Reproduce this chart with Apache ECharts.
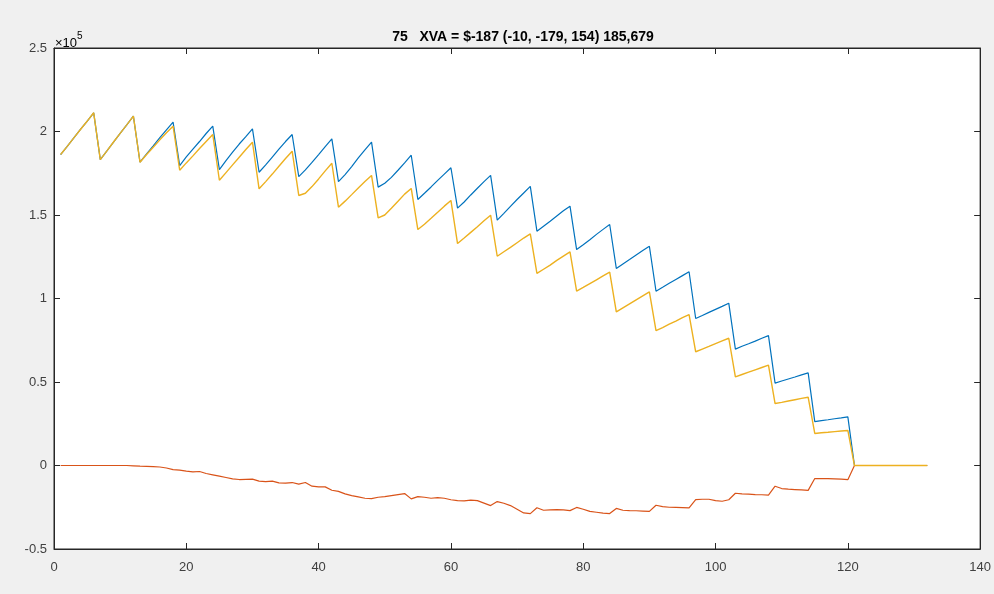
<!DOCTYPE html>
<html>
<head>
<meta charset="utf-8">
<script src="https://cdn.jsdelivr.net/npm/echarts@6/dist/echarts.min.js"></script>
<style>
  html, body { margin: 0; padding: 0; background: #f0f0f0; }
  #chart { width: 994px; height: 594px; }
</style>
</head>
<body>
<div id="chart"></div>
<script>
// values are in units of 1e5
let titleText = '75   XVA = $-187 (-10, -179, 154) 185,679';
let xTicks = [0, 20, 40, 60, 80, 100, 120, 140];
let yTicks = [-0.5, 0, 0.5, 1, 1.5, 2, 2.5];

// x runs 1..132
let blueVals = [
  1.862, 1.911, 1.962, 2.012, 2.061, 2.112,
  1.832, 1.884, 1.937, 1.989, 2.040, 2.092,
  1.816, 1.866, 1.914, 1.963, 2.010, 2.056,
  1.796, 1.848, 1.895, 1.940, 1.988, 2.032,
  1.772, 1.826, 1.876, 1.925, 1.969, 2.016,
  1.756, 1.800, 1.847, 1.894, 1.940, 1.982,
  1.730, 1.770, 1.815, 1.862, 1.910, 1.956,
  1.700, 1.742, 1.790, 1.842, 1.890, 1.936,
  1.667, 1.690, 1.725, 1.768, 1.812, 1.858,
  1.593, 1.630, 1.668, 1.707, 1.745, 1.783,
  1.541, 1.578, 1.620, 1.660, 1.700, 1.737,
  1.469, 1.510, 1.552, 1.593, 1.632, 1.671,
  1.403, 1.433, 1.463, 1.494, 1.525, 1.553,
  1.293, 1.322, 1.352, 1.384, 1.414, 1.443,
  1.180, 1.207, 1.233, 1.260, 1.287, 1.313,
  1.044, 1.067, 1.091, 1.114, 1.137, 1.160,
  0.880, 0.898, 0.917, 0.935, 0.953, 0.972,
  0.697, 0.714, 0.729, 0.745, 0.762, 0.778,
  0.493, 0.506, 0.518, 0.530, 0.543, 0.555,
  0.263, 0.269, 0.274, 0.280, 0.285, 0.291,
  0, 0, 0, 0, 0, 0, 0, 0, 0, 0, 0, 0
];

let redVals = [
  0, 0, 0, 0, 0, 0,
  0, 0, 0, 0, 0, -0.002,
  -0.004, -0.005, -0.007, -0.009, -0.015, -0.025,
  -0.028, -0.034, -0.038, -0.036, -0.048, -0.056,
  -0.064, -0.072, -0.080, -0.084, -0.083, -0.082,
  -0.094, -0.096, -0.094, -0.104, -0.106, -0.102,
  -0.112, -0.102, -0.124, -0.128, -0.128, -0.148,
  -0.155, -0.170, -0.180, -0.188, -0.196, -0.198,
  -0.190, -0.186, -0.180, -0.174, -0.168, -0.200,
  -0.186, -0.190, -0.196, -0.192, -0.196, -0.205,
  -0.210, -0.212, -0.207, -0.210, -0.225, -0.240,
  -0.216, -0.226, -0.240, -0.262, -0.284, -0.288,
  -0.253, -0.268, -0.266, -0.264, -0.266, -0.270,
  -0.251, -0.262, -0.275, -0.280, -0.285, -0.288,
  -0.257, -0.268, -0.270, -0.271, -0.273, -0.275,
  -0.238, -0.246, -0.250, -0.251, -0.252, -0.254,
  -0.204, -0.202, -0.202, -0.210, -0.214, -0.205,
  -0.166, -0.170, -0.172, -0.174, -0.175, -0.177,
  -0.124, -0.138, -0.142, -0.144, -0.146, -0.149,
  -0.078, -0.078, -0.079, -0.080, -0.082, -0.085,
  0, 0, 0, 0, 0, 0, 0, 0, 0, 0, 0, 0
];

let yellowVals = [
  1.862, 1.911, 1.962, 2.012, 2.061, 2.112,
  1.832, 1.884, 1.937, 1.989, 2.040, 2.092,
  1.816, 1.862, 1.906, 1.950, 1.992, 2.032,
  1.768, 1.812, 1.854, 1.898, 1.940, 1.982,
  1.708, 1.754, 1.800, 1.846, 1.892, 1.936,
  1.657, 1.700, 1.745, 1.792, 1.838, 1.882,
  1.617, 1.630, 1.670, 1.716, 1.764, 1.810,
  1.547, 1.583, 1.622, 1.662, 1.700, 1.737,
  1.483, 1.500, 1.540, 1.582, 1.625, 1.659,
  1.413, 1.445, 1.480, 1.516, 1.553, 1.587,
  1.329, 1.362, 1.396, 1.430, 1.466, 1.499,
  1.253, 1.280, 1.306, 1.334, 1.362, 1.387,
  1.150, 1.175, 1.200, 1.228, 1.254, 1.279,
  1.044, 1.066, 1.089, 1.112, 1.135, 1.158,
  0.920, 0.944, 0.968, 0.992, 1.016, 1.040,
  0.808, 0.826, 0.846, 0.865, 0.885, 0.904,
  0.681, 0.697, 0.713, 0.730, 0.746, 0.762,
  0.531, 0.545, 0.559, 0.573, 0.587, 0.601,
  0.371, 0.378, 0.386, 0.394, 0.402, 0.409,
  0.192, 0.196, 0.199, 0.203, 0.207, 0.210,
  0, 0, 0, 0, 0, 0, 0, 0, 0, 0, 0, 0
];

function toPairs(vals) {
  return vals.map(function (v, i) { return [i + 1, v]; });
}

let chart = echarts.init(document.getElementById('chart'), null, {renderer: 'canvas'});

let fontFam = 'Liberation Sans, Arial, sans-serif';
let axisFont = {color: '#404040', fontSize: 13, fontFamily: fontFam};
let tickStyle = {show: true, inside: true, length: 6, lineStyle: {color: '#262626', width: 1}};
let lineBase = {show: true, onZero: false, lineStyle: {color: '#262626', width: 1}};

let option = {
  backgroundColor: '#f0f0f0',
  animation: false,
  title: {
    text: titleText,
    left: 518,
    textAlign: 'center',
    top: 25,
    textStyle: {fontSize: 14, fontWeight: 'bold', color: '#000', fontFamily: fontFam}
  },
  grid: {
    left: 54, right: 11, top: 48, bottom: 45,
    show: true, backgroundColor: '#ffffff', borderColor: '#262626', borderWidth: 1
  },
  xAxis: [
    {
      type: 'value', min: xTicks[0], max: xTicks[xTicks.length - 1], interval: 20,
      position: 'bottom',
      axisLine: lineBase,
      axisTick: tickStyle,
      axisLabel: Object.assign({margin: 12}, axisFont),
      splitLine: {show: false}
    },
    {
      type: 'value', min: xTicks[0], max: xTicks[xTicks.length - 1], interval: 20,
      position: 'top',
      axisLine: lineBase,
      axisTick: tickStyle,
      axisLabel: {show: false},
      splitLine: {show: false}
    }
  ],
  yAxis: [
    {
      type: 'value', min: yTicks[0], max: yTicks[yTicks.length - 1], interval: 0.5,
      position: 'left',
      axisLine: lineBase,
      axisTick: tickStyle,
      axisLabel: Object.assign({margin: 7, padding: [5, 0, 0, 0], formatter: function (v) { return String(v); }}, axisFont),
      splitLine: {show: false}
    },
    {
      type: 'value', min: yTicks[0], max: yTicks[yTicks.length - 1], interval: 0.5,
      position: 'right',
      axisLine: lineBase,
      axisTick: tickStyle,
      axisLabel: {show: false},
      splitLine: {show: false}
    }
  ],
  graphic: [
    {
      type: 'text', left: 55, top: 31,
      style: {
        text: '{a|×10}{b|5}',
        rich: {
          a: {fontSize: 13, color: '#404040', fontFamily: fontFam, verticalAlign: 'bottom', padding: [6, 0, 0, 0]},
          b: {fontSize: 10, color: '#404040', fontFamily: fontFam, verticalAlign: 'top', padding: [0, 0, 8, 0]}
        }
      }
    }
  ],
  series: [
    {
      name: 'blue', type: 'line', data: toPairs(blueVals), showSymbol: false,
      lineStyle: {color: '#0072BD', width: 1.2}, itemStyle: {color: '#0072BD'}, z: 2
    },
    {
      name: 'red', type: 'line', data: toPairs(redVals), showSymbol: false,
      lineStyle: {color: '#D95319', width: 1.2}, itemStyle: {color: '#D95319'}, z: 3
    },
    {
      name: 'yellow', type: 'line', data: toPairs(yellowVals), showSymbol: false,
      lineStyle: {color: '#EDB120', width: 1.4}, itemStyle: {color: '#EDB120'}, z: 4
    }
  ]
};

chart.setOption(option);
</script>
</body>
</html>
